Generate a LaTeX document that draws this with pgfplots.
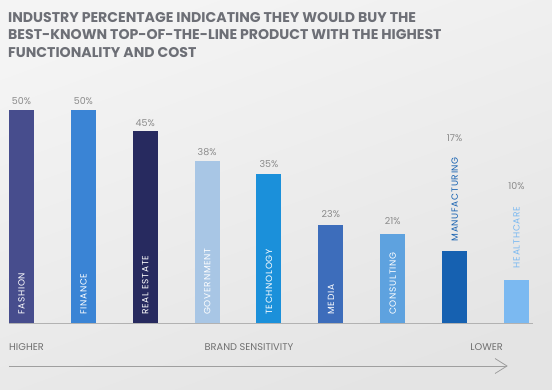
\documentclass[border=0pt]{standalone}
\usepackage{pgfplots}
\pgfplotsset{compat=1.18}
\usepackage{fontspec}
\setmainfont{Poppins}
\newfontfamily\catfont[LetterSpace=8]{Poppins}
\definecolor{cFashion}{HTML}{474D8D}
\definecolor{cFinance}{HTML}{3A84D5}
\definecolor{cReal}{HTML}{272A5F}
\definecolor{cGov}{HTML}{A8C6E5}
\definecolor{cTech}{HTML}{1B90DA}
\definecolor{cMedia}{HTML}{3D6DBB}
\definecolor{cCons}{HTML}{5EA2DF}
\definecolor{cManu}{HTML}{1661B1}
\definecolor{cHealth}{HTML}{7BB9F1}
\definecolor{titlegrey}{HTML}{6D6F76}
\definecolor{valgrey}{HTML}{8A8A8A}
\definecolor{txtgrey}{HTML}{707070}
\definecolor{bgA}{HTML}{F4F4F4}
\definecolor{bgB}{HTML}{E4E4E4}
\pgfplotsset{
  valbar/.style 2 args={ybar, bar width=25pt, bar shift=0pt, draw=none, fill=#1,
    nodes near coords={\pgfmathprintnumber{\pgfplotspointmeta}\%},
    nodes near coords style={font=\fontsize{9.5}{12}\selectfont, text=valgrey, anchor=center, yshift=#2}},
  catlab/.style 2 args={only marks, mark=none, point meta=explicit symbolic,
    nodes near coords,
    nodes near coords style={font=\catfont\fontsize{9}{10}\selectfont, text=#1, inner sep=0pt, anchor=west, yshift=#2, rotate=90}}
}
\begin{document}
\begin{tikzpicture}
\shade[top color=bgA, bottom color=bgB, shading angle=20] (0,0) rectangle (552pt,389pt);
\node[anchor=base west, inner sep=0pt, font=\bfseries\fontsize{14.1}{16}\selectfont, text=titlegrey] at (8pt,366pt) {INDUSTRY PERCENTAGE INDICATING THEY WOULD BUY THE};
\node[anchor=base west, inner sep=0pt, font=\bfseries\fontsize{14.1}{16}\selectfont, text=titlegrey] at (8pt,349pt) {BEST-KNOWN TOP-OF-THE-LINE PRODUCT WITH THE HIGHEST};
\node[anchor=base west, inner sep=0pt, font=\bfseries\fontsize{14.1}{16}\selectfont, text=titlegrey] at (8pt,331pt) {FUNCTIONALITY AND COST};
\begin{axis}[at={(9pt,66pt)}, anchor=south west, scale only axis,
  width=524pt, height=213pt,
  xmin=-0.202, xmax=8.267, ymin=0, ymax=50,
  axis x line=bottom, axis y line=none,
  xtick=\empty, ytick=\empty,
  /pgf/number format/assume math mode=true,
  x axis line style={-, draw=gray!60, line width=1pt},
  clip=false]
\addplot[valbar={cFashion}{9pt}] coordinates {(0,50)};
\addplot[valbar={cFinance}{9pt}] coordinates {(1,50)};
\addplot[valbar={cReal}{8pt}] coordinates {(2,45)};
\addplot[valbar={cGov}{9.5pt}] coordinates {(3,38)};
\addplot[valbar={cTech}{10pt}] coordinates {(4,35)};
\addplot[valbar={cMedia}{11pt}] coordinates {(5,23)};
\addplot[valbar={cCons}{12pt}] coordinates {(6,21)};
\addplot[valbar={cManu}{112pt}] coordinates {(7,17)};
\addplot[valbar={cHealth}{94pt}] coordinates {(8,10)};
\addplot[catlab={white}{8pt}] coordinates {(0,0) [FASHION] (1,0) [FINANCE] (2,0) [REAL ESTATE] (3,0) [GOVERNMENT] (4,0) [TECHNOLOGY] (5,0) [MEDIA] (6,0) [CONSULTING]};
\addplot[catlab={cManu}{9pt}] coordinates {(7,17) [MANUFACTURING]};
\addplot[catlab={cHealth}{12pt}] coordinates {(8,10) [HEALTHCARE]};
\end{axis}
\node[anchor=base west, inner sep=0pt, font=\fontsize{9.8}{11}\selectfont, text=txtgrey] at (9pt,38.5pt) {HIGHER};
\node[anchor=base, inner sep=0pt, font=\fontsize{9.8}{11}\selectfont, text=txtgrey] at (249pt,38.5pt) {BRAND SENSITIVITY};
\node[anchor=base east, inner sep=0pt, font=\fontsize{9.8}{11}\selectfont, text=txtgrey] at (503pt,38.5pt) {LOWER};
\draw[gray!75, line width=0.9pt] (9pt,23pt) -- (507pt,23pt);
\draw[gray!75, line width=0.8pt] (495pt,30.5pt) -- (507pt,23pt) -- (495pt,15.5pt);
\end{tikzpicture}
\end{document}
